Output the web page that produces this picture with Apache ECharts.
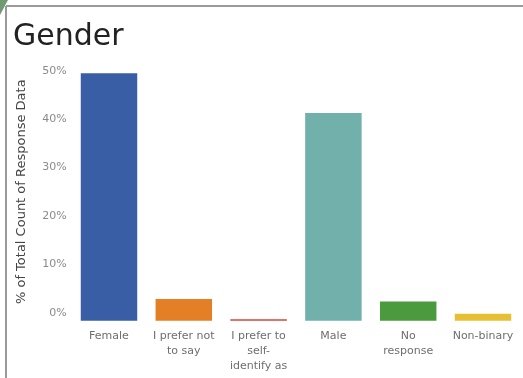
<!DOCTYPE html>
<html lang="en">
<head>
    <meta charset="utf-8">
    <title>Gender</title>
    <script src="https://cdn.jsdelivr.net/npm/echarts@6/dist/echarts.min.js"></script>
    <style type="text/css">
        html, body { height: 100%; margin: 0; background: #fff; }
    </style>
</head>
<body>
    <div id="main" style="width:523px;height:378px;"></div>
    <script type="text/javascript">
        // categories as shown on the x axis (wrapped like the original)
        var categories = ['Female', 'I prefer not\nto say', 'I prefer to\nself-\nidentify as', 'Male', 'No\nresponse', 'Non-binary'];
        // % of total count of response data
        var values = [49.1, 4.3, 0.3, 41.2, 3.8, 1.4];
        var barColors = ['#3a5ea5', '#e57f26', '#d8433b', '#72b1ab', '#4b9a3e', '#e6c032'];
        var yTicks = [0, 10, 20, 30, 40, 50];

        var myChart = echarts.init(document.getElementById('main'));

        var option = {
            animation: false,
            backgroundColor: '#fff',
            title: {
                text: 'Gender',
                left: 8,
                top: 17,
                textStyle: { fontFamily: 'DejaVu Sans', fontSize: 30, fontWeight: 'normal', color: '#222' }
            },
            // frame and corner of the screenshot
            graphic: [
                { type: 'line', shape: { x1: 6, y1: 6, x2: 523, y2: 6 }, style: { stroke: '#9a9a9a', lineWidth: 2 } },
                { type: 'line', shape: { x1: 6, y1: 6, x2: 6, y2: 378 }, style: { stroke: '#9a9a9a', lineWidth: 2 } },
                { type: 'polygon', shape: { points: [[0, 0], [8, 0], [0, 15]] }, style: { fill: '#6f9a72' } }
            ],
            // grid 0 holds the bars, grid 1 only carries the tick labels (they sit a bit higher in the original)
            grid: [
                { left: 71.6, right: 2.6, top: 68.7, bottom: 57.3 },
                { left: 71.6, right: 2.6, top: 70.7, bottom: 65.3 }
            ],
            xAxis: [{
                type: 'category',
                gridIndex: 0,
                data: categories,
                axisLine: { show: false },
                axisTick: { show: false },
                axisLabel: {
                    interval: 0,
                    margin: 8,
                    fontFamily: 'DejaVu Sans',
                    fontSize: 11,
                    lineHeight: 15,
                    color: '#6e6e6e'
                }
            }, {
                type: 'category',
                gridIndex: 1,
                data: categories,
                show: false
            }],
            yAxis: [{
                type: 'value',
                gridIndex: 0,
                min: yTicks[0],
                max: yTicks[yTicks.length - 1],
                interval: 10,
                show: false
            }, {
                type: 'value',
                gridIndex: 1,
                min: yTicks[0],
                max: yTicks[yTicks.length - 1],
                interval: 10,
                name: '% of Total Count of Response Data',
                nameLocation: 'middle',
                nameGap: 43,
                nameTextStyle: { fontFamily: 'DejaVu Sans', fontSize: 13, color: '#444' },
                axisLine: { show: false },
                axisTick: { show: false },
                splitLine: { show: false },
                axisLabel: {
                    margin: 5,
                    fontFamily: 'DejaVu Sans',
                    fontSize: 11,
                    color: '#8a8a8a',
                    formatter: function (v) { return v + '%'; }
                }
            }],
            series: [{
                type: 'bar',
                xAxisIndex: 0,
                yAxisIndex: 0,
                barCategoryGap: '24.5%',
                data: values.map(function (v, i) {
                    return { value: v, itemStyle: { color: barColors[i] } };
                })
            }]
        };

        myChart.setOption(option);
    </script>
</body>
</html>
